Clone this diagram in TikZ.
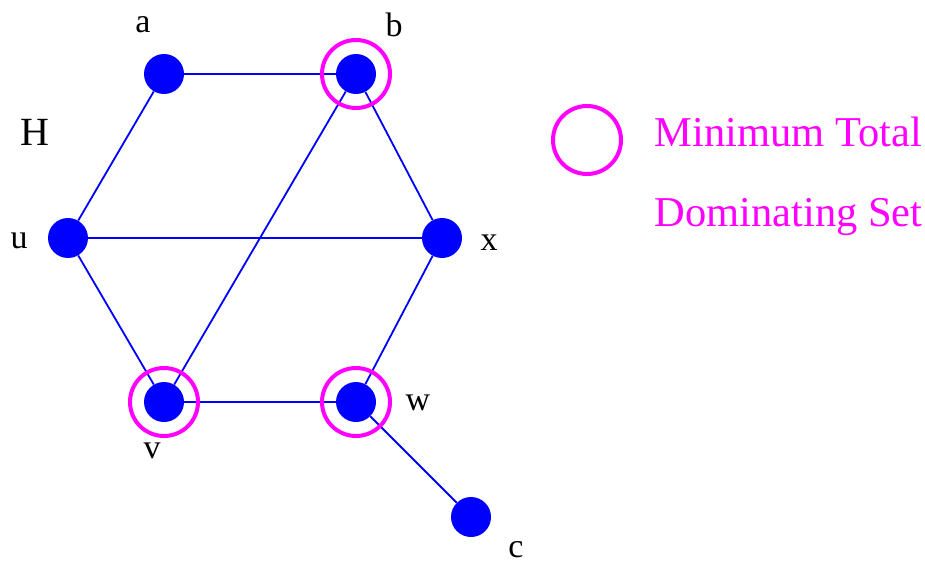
\documentclass[tikz,border=0pt]{standalone}
\usepackage{fontspec}
\setmainfont{Liberation Serif}
\usepackage{xcolor}
\usetikzlibrary{math}
\definecolor{myblue}{RGB}{0,0,255}
\definecolor{mymag}{RGB}{255,0,255}

\begin{document}
\begin{tikzpicture}[x=1pt,y=-1pt]
\tikzmath{
\r=20;
\R=34;
}
\tikzset{
vert/.style={circle,fill=myblue,minimum size=2*\r,inner sep=0pt},
ring/.style={circle,draw=mymag,line width=4pt,minimum size=2*\R,inner sep=0pt},
edge/.style={myblue,line width=1.8pt},
lab/.style={font=\fontsize{34}{40}\selectfont},
key/.style={anchor=west,text=mymag,font=\fontsize{42.5}{50}\selectfont}
}
\useasboundingbox (0,0) rectangle (925,564);

% vertices
\node[vert] (a) at (164,74) {};
\node[vert] (b) at (356,74) {};
\node[vert] (u) at (68,238) {};
\node[vert] (x) at (442,238) {};
\node[vert] (v) at (164,402) {};
\node[vert] (w) at (356,402) {};
\node[vert] (c) at (471,517) {};

% edges
\draw[edge] (a) -- (b);
\draw[edge] (a) -- (u);
\draw[edge] (b) -- (x);
\draw[edge] (b) -- (v);
\draw[edge] (u) -- (x);
\draw[edge] (u) -- (v);
\draw[edge] (x) -- (w);
\draw[edge] (v) -- (w);
\draw[edge] (w) -- (c);

% dominating set
\node[ring] (rb) at (b) {};
\node[ring] (rv) at (v) {};
\node[ring] (rw) at (w) {};

% labels
\node[lab] (la) at (143,25) {a};
\node[lab] (lb) at (394,25) {b};
\node[lab] (lu) at (19,241) {u};
\node[lab] (lx) at (489,243) {x};
\node[lab] (lv) at (152,451) {v};
\node[lab] (lw) at (418,403) {w};
\node[lab] (lc) at (516,550) {c};
\node[font=\fontsize{40}{48}\selectfont] (H) at (35,132) {H};

% legend
\node[ring] (key) at (587,140) {};
\node[key] (t1) at (651,132) {Minimum Total};
\node[key] (t2) at (651,217) {Dominating Set};
\end{tikzpicture}
\end{document}
